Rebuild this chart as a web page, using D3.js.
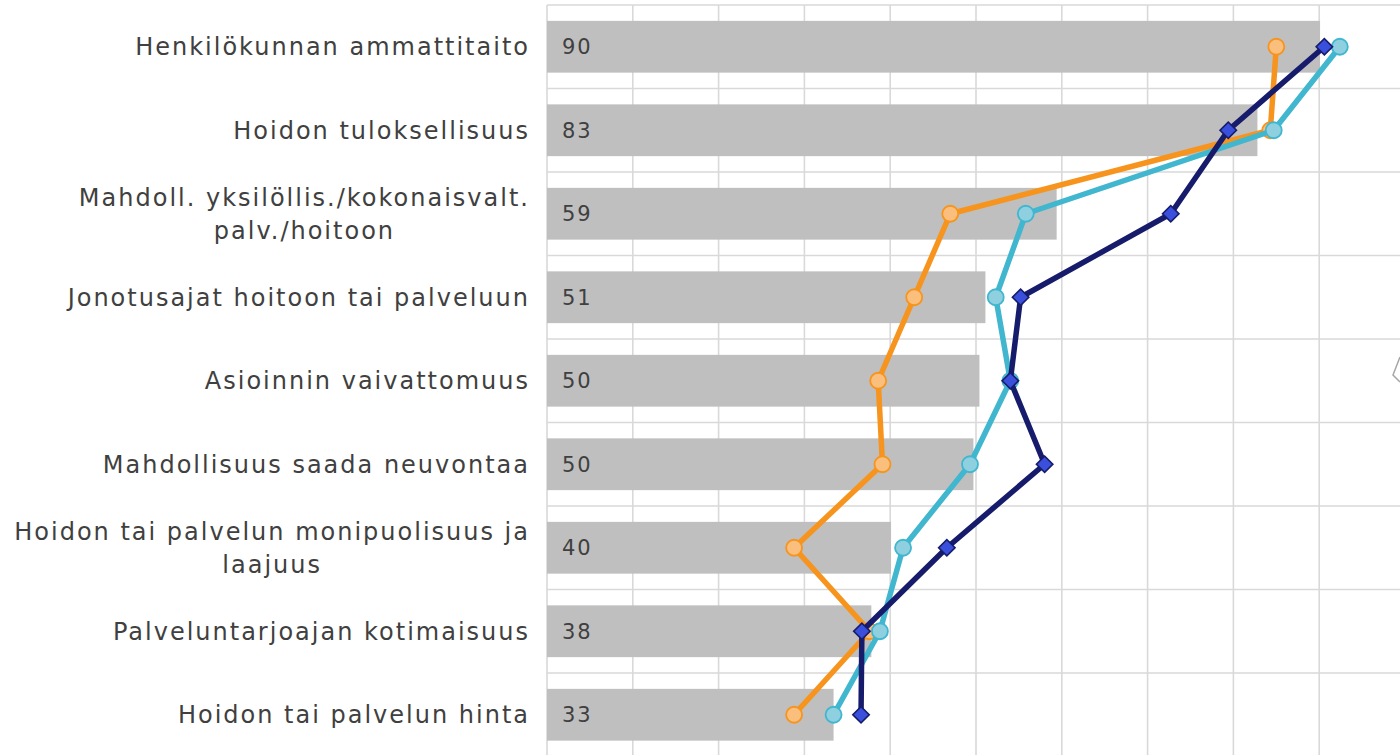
<!DOCTYPE html>
<html>
<head>
<meta charset="utf-8">
<script src="https://cdn.jsdelivr.net/npm/d3@7"></script>
<style>
  body { margin: 0; background: #fff; }
  svg { display: block; }
  .cat-label { font-family: 'DejaVu Sans', sans-serif; font-size: 24px; fill: #404040; letter-spacing: 2px; }
  .bar-label { font-family: 'DejaVu Sans', sans-serif; font-size: 21px; fill: #404040; letter-spacing: 2px; }
</style>
</head>
<body>
<div id="chart"></div>
<script>
// categories, top to bottom (\n = line break in the label)
var categories = [
  'Henkilökunnan ammattitaito',
  'Hoidon tuloksellisuus',
  'Mahdoll. yksilöllis./kokonaisvalt.\npalv./hoitoon',
  'Jonotusajat hoitoon tai palveluun',
  'Asioinnin vaivattomuus',
  'Mahdollisuus saada neuvontaa',
  'Hoidon tai palvelun monipuolisuus ja\nlaajuus',
  'Palveluntarjoajan kotimaisuus',
  'Hoidon tai palvelun hinta'
]

var barValues = [90.1, 82.8, 59.4, 51.1, 50.4, 49.7, 40.1, 37.8, 33.4]
var orangeValues = [85.0, 84.3, 47.0, 42.8, 38.6, 39.1, 28.8, 37.6, 28.8]
var cyanValues = [92.4, 84.7, 55.8, 52.3, 54.0, 49.3, 41.5, 38.8, 33.4]
var navyValues = [90.6, 79.4, 72.7, 55.2, 54.0, 58.0, 46.6, 36.7, 36.6]

var xTicks = [0, 10, 20, 30, 40, 50, 60, 70, 80, 90, 100]

var width = 1400
var height = 755
var plot = { left: 547, top: 5, right: 1405, bottom: 756.5 }

var svg = d3
  .select('#chart')
  .append('svg')
  .attr('width', width)
  .attr('height', height)

var x = d3.scaleLinear().domain([0, 100]).range([plot.left, plot.right])

var y = d3
  .scaleBand()
  .domain(categories)
  .range([plot.top, plot.bottom])
  .paddingInner(0.38)
  .paddingOuter(0.19)

var step = y.step()
function yMid (c) {
  return y(c) + y.bandwidth() / 2
}

// gridlines
var grid = svg.append('g').attr('class', 'grid')

grid
  .selectAll('.vgrid')
  .data(xTicks)
  .enter()
  .append('line')
  .attr('x1', function (d) { return x(d) })
  .attr('x2', function (d) { return x(d) })
  .attr('y1', plot.top)
  .attr('y2', height)
  .attr('stroke', '#d9d9d9')
  .attr('stroke-width', 1.6)

grid
  .selectAll('.hgrid')
  .data(d3.range(categories.length + 1))
  .enter()
  .append('line')
  .attr('x1', plot.left)
  .attr('x2', width)
  .attr('y1', function (i) { return plot.top + i * step })
  .attr('y2', function (i) { return plot.top + i * step })
  .attr('stroke', '#d9d9d9')
  .attr('stroke-width', 1.6)

// bars
svg
  .selectAll('.bar')
  .data(barValues)
  .enter()
  .append('rect')
  .attr('class', 'bar')
  .attr('x', x(0))
  .attr('y', function (d, i) { return y(categories[i]) })
  .attr('width', function (d) { return x(d) - x(0) })
  .attr('height', y.bandwidth())
  .attr('fill', '#bfbfbf')

svg
  .selectAll('.bar-label')
  .data(barValues)
  .enter()
  .append('text')
  .attr('class', 'bar-label')
  .attr('x', x(0) + 15)
  .attr('y', function (d, i) { return yMid(categories[i]) })
  .attr('dy', '0.36em')
  .text(function (d) { return d3.format('.0f')(d) })

// category labels, wrapped lines centred on each other, block right aligned
var labelRight = 530
var lineGap = 33
categories.forEach(function (c) {
  var lines = c.split('\n')
  var g = svg.append('g')
  var texts = lines.map(function (line, i) {
    return g
      .append('text')
      .attr('class', 'cat-label')
      .attr('y', yMid(c) + (i - (lines.length - 1) / 2) * lineGap)
      .attr('dy', '0.36em')
      .text(line)
  })
  if (lines.length === 1) {
    texts[0].attr('x', labelRight).attr('text-anchor', 'end')
  } else {
    var maxW = d3.max(texts, function (t) { return t.node().getComputedTextLength() })
    texts.forEach(function (t) {
      t.attr('x', labelRight - maxW / 2).attr('text-anchor', 'middle')
    })
  }
})

// line series
var series = [
  { name: 'orange', values: orangeValues, line: '#f7941d', fill: '#fbbf7d', marker: 'circle' },
  { name: 'cyan', values: cyanValues, line: '#41b6cf', fill: '#8fd0e0', marker: 'circle' },
  { name: 'navy', values: navyValues, line: '#161c6b', fill: '#3a50dc', marker: 'diamond' }
]

var line = d3
  .line()
  .x(function (d) { return x(d) })
  .y(function (d, i) { return yMid(categories[i]) })

series.forEach(function (s) {
  var g = svg.append('g').attr('class', 'series-' + s.name)
  g.append('path')
    .attr('d', line(s.values))
    .attr('fill', 'none')
    .attr('stroke', s.line)
    .attr('stroke-width', 5.5)
    .attr('stroke-linejoin', 'round')

  if (s.marker === 'circle') {
    g.selectAll('circle')
      .data(s.values)
      .enter()
      .append('circle')
      .attr('cx', function (d) { return x(d) })
      .attr('cy', function (d, i) { return yMid(categories[i]) })
      .attr('r', 8)
      .attr('fill', s.fill)
      .attr('stroke', s.line)
      .attr('stroke-width', 1.8)
  } else {
    var sym = d3.symbol().type(d3.symbolSquare).size(135)
    g.selectAll('.marker')
      .data(s.values)
      .enter()
      .append('path')
      .attr('class', 'marker')
      .attr('d', sym)
      .attr('transform', function (d, i) {
        return 'translate(' + x(d) + ',' + yMid(categories[i]) + ') rotate(45)'
      })
      .attr('fill', s.fill)
      .attr('stroke', s.line)
      .attr('stroke-width', 1.6)
  }
})

// edge of a legend shape cut off at the right border
svg
  .append('path')
  .attr('d', 'M1400,357 L1393,375 L1400,382')
  .attr('fill', 'none')
  .attr('stroke', '#a6a6a6')
  .attr('stroke-width', 1.5)
</script>
</body>
</html>
